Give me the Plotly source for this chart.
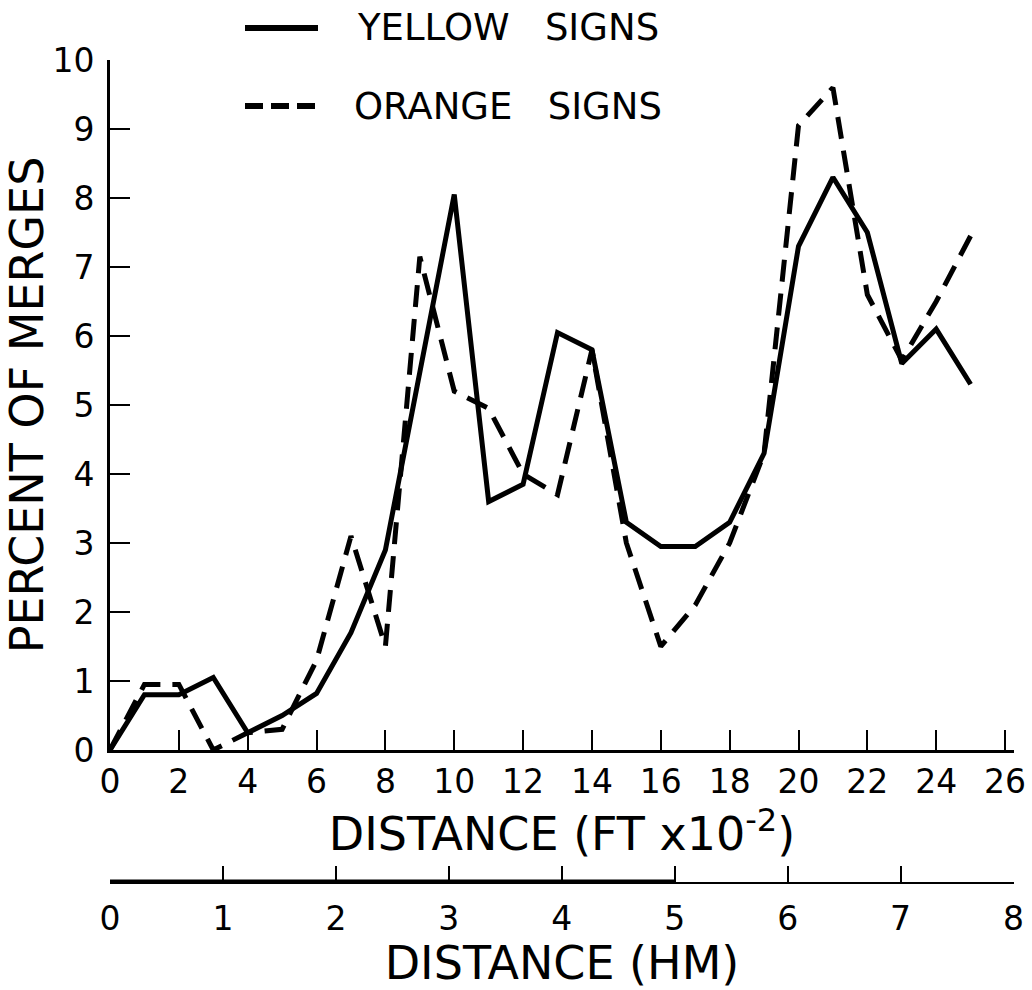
import plotly.graph_objects as go

# ---- data ----
distance_ft100 = list(range(0, 26))
yellow_signs = [0.0, 0.8, 0.8, 1.05, 0.25, 0.5, 0.82, 1.7, 2.9, 5.5, 8.05, 3.6, 3.85, 6.05,
                5.8, 3.3, 2.95, 2.95, 3.3, 4.3, 7.3, 8.3, 7.5, 5.6, 6.1, 5.3]
orange_signs = [0.0, 0.95, 0.95, 0.0, 0.25, 0.3, 1.3, 3.1, 1.5, 7.15, 5.2, 4.95, 4.0, 3.7,
                5.8, 3.0, 1.5, 2.1, 3.0, 4.3, 9.05, 9.6, 6.6, 5.65, 6.5, 7.45]
ft_ticks = list(range(0, 27, 2))
hm_ticks = list(range(0, 9))
hm_thick_segment = [0, 5]
y_ticks = list(range(0, 11))

HM_PER_FT100 = 0.3048  # 100 ft = 0.3048 hm
x_max = 26.26

FONT = "DejaVu Sans"
W, H = 1032, 990
ML, MR = 110, 18
PW = W - ML - MR

fig = go.Figure()
fig.add_trace(go.Scatter(x=distance_ft100, y=yellow_signs, mode="lines",
                         line=dict(color="black", width=5), name="YELLOW SIGNS",
                         showlegend=False, xaxis="x", yaxis="y"))
fig.add_trace(go.Scatter(x=distance_ft100, y=orange_signs, mode="lines",
                         line=dict(color="black", width=5, dash="22px,12px"),
                         name="ORANGE SIGNS", showlegend=False, xaxis="x", yaxis="y"))
# thick part of the metric scale
fig.add_trace(go.Scatter(x=hm_thick_segment, y=[0, 0], mode="lines",
                         line=dict(color="black", width=5), showlegend=False,
                         xaxis="x2", yaxis="y2", hoverinfo="skip"))

axis_font = dict(family=FONT, size=33, color="black")
title_font = dict(family=FONT, size=46, color="black")

fig.update_layout(
    width=W, height=H,
    margin=dict(l=ML, r=MR, t=0, b=0),
    paper_bgcolor="white", plot_bgcolor="white",
    xaxis=dict(range=[0, x_max], domain=[0, 1], anchor="y", automargin=False,
               tickvals=ft_ticks, ticktext=[str(t) for t in ft_ticks],
               ticks="inside", ticklen=20, tickwidth=2, tickcolor="black",
               showline=True, linecolor="black", linewidth=3,
               showgrid=False, zeroline=False, tickfont=axis_font, ticklabelstandoff=0,
               title=dict(text="DISTANCE (FT x10<sup>-2</sup>)", font=title_font, standoff=2)),
    yaxis=dict(range=[0, 10], domain=[1 - 750 / H, 1 - 60 / H], anchor="x", automargin=False,
               tickvals=y_ticks, ticks="inside", ticklen=20, tickwidth=2, tickcolor="black",
               showline=True, linecolor="black", linewidth=3,
               showgrid=False, zeroline=False, tickfont=axis_font, ticklabelstandoff=6,
               title=dict(text="PERCENT OF MERGES", font=title_font, standoff=6)),
    xaxis2=dict(range=[0, x_max * HM_PER_FT100], domain=[0, 1], anchor="y2", automargin=False,
                tickvals=hm_ticks, ticks="inside", ticklen=16, tickwidth=2, tickcolor="black",
                showline=True, linecolor="black", linewidth=2,
                showgrid=False, zeroline=False, tickfont=axis_font, ticklabelstandoff=6,
                title=dict(text="DISTANCE (HM)", font=title_font, standoff=2)),
    yaxis2=dict(range=[0, 1], domain=[1 - 882 / H, 1 - 860 / H], anchor="x2",
                visible=False, fixedrange=True),
)

# legend drawn manually
def px_x(p):
    return (p - ML) / PW

fig.add_shape(type="line", xref="paper", yref="paper",
              x0=px_x(245), x1=px_x(318), y0=1 - 28 / H, y1=1 - 28 / H,
              line=dict(color="black", width=6))
fig.add_shape(type="line", xref="paper", yref="paper",
              x0=px_x(245), x1=px_x(318), y0=1 - 106 / H, y1=1 - 106 / H,
              line=dict(color="black", width=6, dash="18px,8px"))
legend_font = dict(family=FONT, size=37, color="black")
fig.add_annotation(text="YELLOW   SIGNS", xref="paper", yref="paper",
                   x=px_x(355), y=1 - 28 / H, xanchor="left", yanchor="middle",
                   showarrow=False, font=legend_font)
fig.add_annotation(text="ORANGE   SIGNS", xref="paper", yref="paper",
                   x=px_x(352), y=1 - 106 / H, xanchor="left", yanchor="middle",
                   showarrow=False, font=legend_font)

fig.write_html("out.html")
